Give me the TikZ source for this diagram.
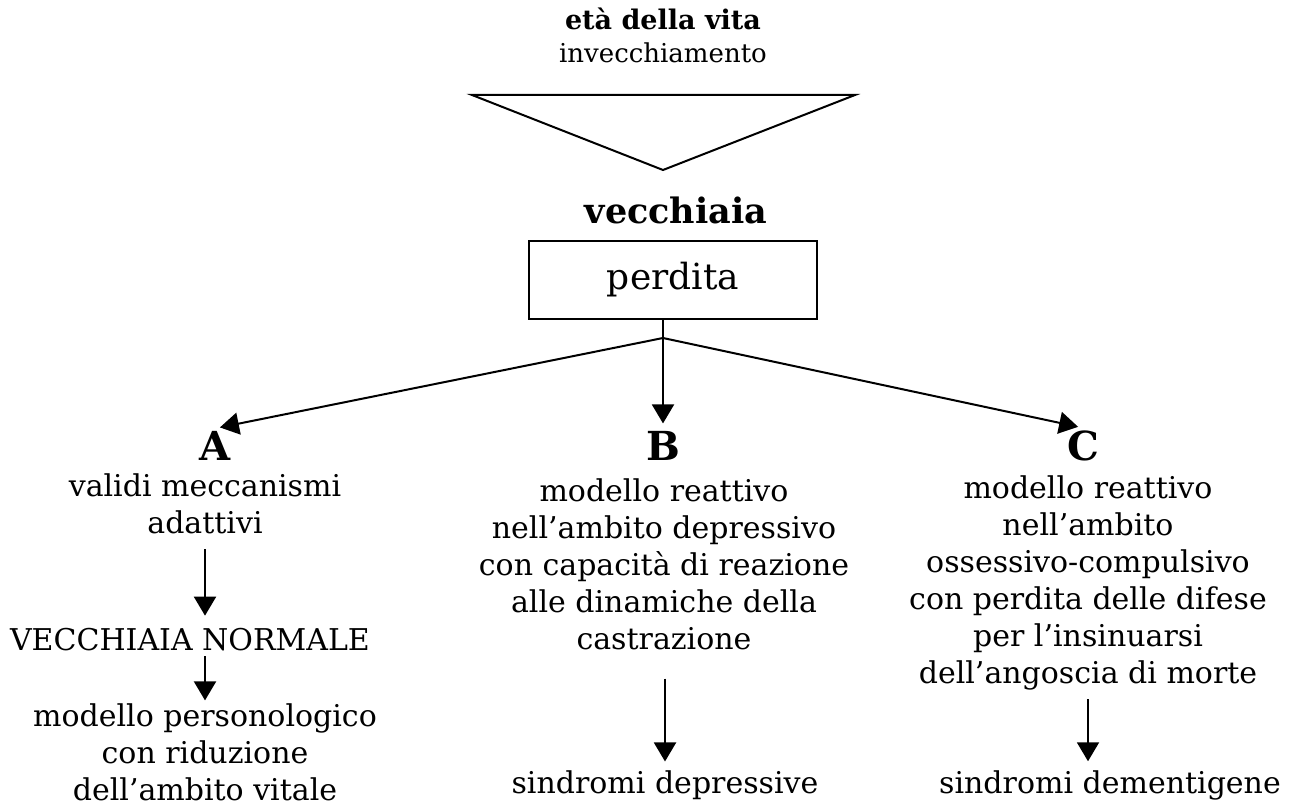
\documentclass[tikz,border=0pt]{standalone}
\usepackage{fontspec}
\setmainfont{DejaVu Serif}
\usetikzlibrary{arrows.meta, positioning}
\tikzset{
  every node/.style={inner sep=2pt, align=center},
  txt/.style={font=\fontsize{30}{37}\selectfont},
  sub/.style={font=\fontsize{26}{30}\selectfont},
  subbold/.style={font=\fontsize{27}{30}\selectfont\bfseries},
  head/.style={font=\fontsize{35}{38}\selectfont\bfseries},
  boxtxt/.style={font=\fontsize{36}{40}\selectfont},
  letter/.style={font=\fontsize{40}{42}\selectfont\bfseries},
  arr/.style={-{Triangle[width=22pt,length=19pt]}, line width=2pt},
}

\begin{document}
\begin{tikzpicture}[x=1pt, y=-1pt, line width=2pt]
  \useasboundingbox (0,0) rectangle (1298,805);

  % top
  \node[subbold] (eta) at (663,19) {età della vita};
  \node[sub] (invec) at (663,53) {invecchiamento};
  \draw (472,95) -- (855,95) -- (663,170) -- cycle;

  \node[head] (vecchiaia) at (676,210) {vecchiaia};
  \node[boxtxt, draw, minimum width=288pt, minimum height=78pt] (perdita) at (673,280) {perdita};
  \coordinate (fork) at ([xshift=-10pt, yshift=-18pt]perdita.south);

  % three branches
  \node[letter] (labA) at (215,446) {A};
  \node[letter] (labB) at (663,446) {B};
  \node[letter] (labC) at (1083,446) {C};
  \draw (perdita.south -| fork) -- (fork);
  \draw[arr, shorten >=5pt] (fork) -- (labA.north);
  \draw[arr, shorten >=5pt] (fork) -- (labB.north);
  \draw[arr, shorten >=5pt] (fork) -- (labC.north);

  % A
  \node[txt] (textA) at (205,504) {validi meccanismi\\adattivi};
  \node[txt] (normale) at (190,640) {VECCHIAIA NORMALE};
  \node[txt] (persA) at (205,752) {modello personologico\\con riduzione\\dell’ambito vitale};
  \draw[arr, shorten <=12pt, shorten >=10pt] (textA.south) -- (textA.south |- normale.north);
  \draw[arr, shorten <=2pt, shorten >=0pt] (textA.south |- normale.south) -- (persA.north);

  % B
  \node[txt] (textB) at (664,564) {modello reattivo\\nell’ambito depressivo\\con capacità di reazione\\alle dinamiche della\\castrazione};
  \node[txt] (sindB) at (665,785) {sindromi depressive};
  \draw[arr, shorten <=26pt, shorten >=6pt] (textB.south -| sindB) -- (sindB.north);

  % C
  \node[txt] (textC) at (1088,583) {modello reattivo\\nell’ambito\\ossessivo-compulsivo\\con perdita delle difese\\per l’insinuarsi\\dell’angoscia di morte};
  \node[txt] (sindC) at (1110,785) {sindromi dementigene};
  \draw[arr, shorten <=6pt, shorten >=6pt] (textC.south) -- (textC.south |- sindC.north);
\end{tikzpicture}
\end{document}
